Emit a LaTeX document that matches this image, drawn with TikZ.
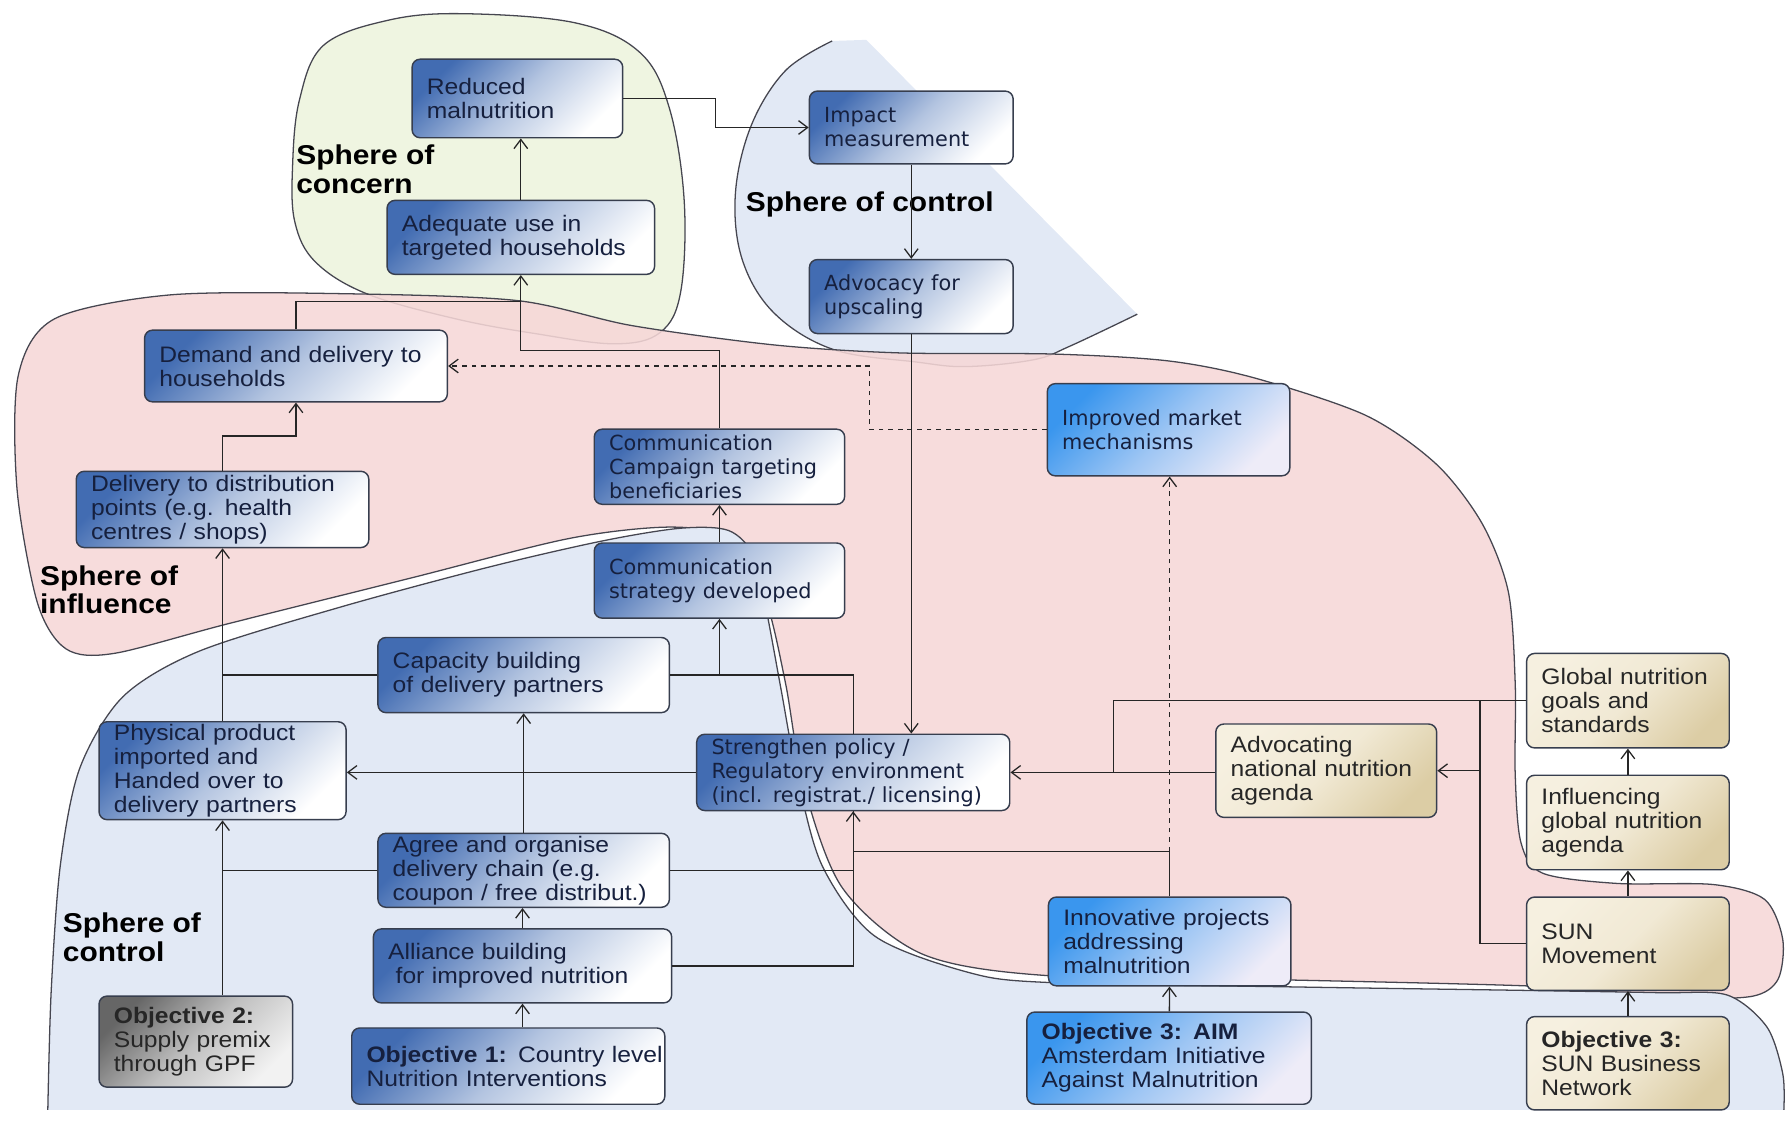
\documentclass[tikz,border=0pt]{standalone}
\usepackage{fontspec}
\setmainfont{Liberation Sans}[FakeStretch=1.1]
\newfontfamily\wideface{DejaVu Sans}
\usetikzlibrary{arrows.meta}

\definecolor{influencepink}{RGB}{246,215,215}
\definecolor{controlblue}{RGB}{226,233,245}
\definecolor{concerngreen}{RGB}{239,245,225}
\definecolor{sphereline}{RGB}{70,70,80}
\definecolor{boxblue}{RGB}{66,108,178}
\definecolor{brightblue}{RGB}{58,150,238}
\definecolor{paleblue}{RGB}{238,236,248}
\definecolor{sandlight}{RGB}{246,240,224}
\definecolor{sanddark}{RGB}{220,205,165}
\definecolor{boxedge}{RGB}{55,62,78}
\definecolor{boxink}{RGB}{22,32,62}

\begin{document}
\begin{tikzpicture}[
  x=0.025cm,y=-0.025cm,
  >={Straight Barb[length=2mm,width=3mm]},
  link/.style={draw=black!85,line width=.8pt},
  sphere/.style={draw=sphereline,line width=.8pt},
  wd/.style={minimum width=#1*0.025cm,text width=(#1-26)*0.025cm},
  ht/.style={minimum height=#1*0.025cm},
  stage/.style={draw=boxedge,line width=.9pt,rounded corners=5pt,align=left,
    inner xsep=0.325cm,inner ysep=1pt,text=boxink,
    font=\fontsize{14}{15}\selectfont},
  bluestage/.style={stage,top color=boxblue,bottom color=white,
    middle color=boxblue!40!white,shading angle=45},
  widestage/.style={bluestage,font=\wideface\fontsize{13}{15}\selectfont},
  brightstage/.style={stage,top color=brightblue,bottom color=paleblue,
    middle color=brightblue!45!paleblue,shading angle=45},
  brightwide/.style={brightstage,font=\wideface\fontsize{13}{15}\selectfont},
  sandstage/.style={stage,text=black!85,top color=sandlight,bottom color=sanddark,
    middle color=sandlight!80!sanddark,shading angle=45},
  greystage/.style={stage,text=black!85,top color=black!60,bottom color=black!5,
    middle color=black!25,shading angle=45},
  spherelabel/.style={align=left,inner sep=0pt,anchor=west,
    font=\bfseries\fontsize{17}{18}\selectfont}]

\useasboundingbox (0,0) rectangle (1568,986);

% spheres
\fill[concerngreen] plot[smooth cycle,tension=.6] coordinates {(257,146) (263,88)
  (284,40) (340,18) (405,12) (505,20) (562,46) (588,95) (601,176) (598,256)
  (580,292) (540,302) (470,293) (400,280) (322,258) (277,230) (259,195)};
\draw[sphere] plot[smooth cycle,tension=.6] coordinates {(257,146) (263,88)
  (284,40) (340,18) (405,12) (505,20) (562,46) (588,95) (601,176) (598,256)
  (580,292) (540,302) (470,293) (400,280) (322,258) (277,230) (259,195)};

\fill[controlblue] plot[smooth,tension=.6] coordinates {(731,36) (690,62) (660,110)
  (646,170) (652,228) (680,275) (732,307) (805,318) (849,322) (908,316) (940,304)
  (999,276)} -- (761,35) -- cycle;
\draw[sphere] plot[smooth,tension=.6] coordinates {(731,36) (690,62) (660,110)
  (646,170) (652,228) (680,275) (732,307) (805,318) (849,322) (908,316) (940,304)
  (999,276)};

\fill[influencepink,fill opacity=.88] plot[smooth cycle,tension=.5] coordinates {
  (16,330) (48,280) (150,259) (302,258) (454,264) (555,286) (680,303) (790,310)
  (925,311) (1026,317) (1102,332) (1200,365) (1262,408) (1302,460) (1325,520)
  (1331,600) (1331,680) (1336,740) (1355,767) (1420,776) (1505,777) (1550,790)
  (1566,825) (1562,860) (1540,875) (1480,877) (1400,871) (1340,866) (1140,861)
  (920,857) (810,838) (740,780) (706,690) (690,600) (672,525) (642,474) (590,463)
  (500,473) (360,508) (200,548) (100,574) (58,570) (33,530) (15,430)};
\draw[sphere] plot[smooth cycle,tension=.5] coordinates {
  (16,330) (48,280) (150,259) (302,258) (454,264) (555,286) (680,303) (790,310)
  (925,311) (1026,317) (1102,332) (1200,365) (1262,408) (1302,460) (1325,520)
  (1331,600) (1331,680) (1336,740) (1355,767) (1420,776) (1505,777) (1550,790)
  (1566,825) (1562,860) (1540,875) (1480,877) (1400,871) (1340,866) (1140,861)
  (920,857) (810,838) (740,780) (706,690) (690,600) (672,525) (642,474) (590,463)
  (500,473) (360,508) (200,548) (100,574) (58,570) (33,530) (15,430)};

\fill[controlblue] plot[smooth,tension=.5] coordinates {(42,975) (45,870) (53,760)
  (70,675) (108,612) (175,572) (300,533) (430,498) (530,475) (598,464) (640,466)
  (662,488) (673,535) (686,605) (700,680) (722,760) (768,822) (850,854) (920,863)
  (1140,867) (1340,870) (1457,872) (1517,874) (1552,902) (1566,943) (1567,975)}
  -- cycle;
\draw[sphere] plot[smooth,tension=.5] coordinates {(42,975) (45,870) (53,760)
  (70,675) (108,612) (175,572) (300,533) (430,498) (530,475) (598,464) (640,466)
  (662,488) (673,535) (686,605) (700,680) (722,760) (768,822) (850,854) (920,863)
  (1140,867) (1340,870) (1457,872) (1517,874) (1552,902) (1566,943) (1567,975)};

\node[spherelabel] (concernlbl) at (260,149) {Sphere of\\concern};
\node[spherelabel] (uppercontrollbl) at (655,180) {Sphere of control};
\node[spherelabel] (influencelbl) at (35,518) {Sphere of\\influence};
\node[spherelabel] (controllbl) at (55,823) {Sphere of\\control};

% stages
\node[bluestage,wd=185,ht=69] (reduced) at (454.5,86.5) {Reduced\\malnutrition};
\node[bluestage,wd=235,ht=65] (adequate) at (457.5,208.5)
  {Adequate use in\\targeted households};
\node[widestage,wd=179,ht=64] (impact) at (800.5,112) {Impact\\measurement};
\node[widestage,wd=179,ht=65] (advocacy) at (800.5,260.5) {Advocacy for\\upscaling};
\node[bluestage,wd=266,ht=63] (demand) at (260,321.5)
  {Demand and delivery to\\households};
\node[brightwide,wd=213,ht=81] (market) at (1026.5,377.5)
  {Improved market\\mechanisms};
\node[widestage,wd=220,ht=66] (campaign) at (632,410)
  {\mbox{Communication}\\\mbox{Campaign targeting}\\beneficiaries};
\node[bluestage,wd=257,ht=67] (delivery) at (195.5,447.5)
  {\mbox{Delivery to distribution}\\points (e.g. health\\centres / shops)};
\node[widestage,wd=220,ht=66] (strategy) at (632,510)
  {Communication\\\mbox{strategy developed}};
\node[bluestage,wd=256,ht=66] (capacity) at (460,593)
  {Capacity building\\of delivery partners};
\node[bluestage,wd=217,ht=86] (physical) at (195.5,677)
  {Physical product\\imported and\\Handed over to\\delivery partners};
\node[widestage,wd=275,ht=67] (policy) at (749.5,678.5)
  {Strengthen policy /\\\mbox{Regulatory environment}\\\mbox{(incl. registrat./ licensing)}};
\node[sandstage,wd=178,ht=83] (goals) at (1430,615.5)
  {Global nutrition\\goals and\\standards};
\node[sandstage,wd=194,ht=82] (national) at (1165,677)
  {Advocating\\\mbox{national nutrition}\\agenda};
\node[sandstage,wd=178,ht=83] (influencing) at (1430,722.5)
  {Influencing\\\mbox{global nutrition}\\agenda};
\node[bluestage,wd=256,ht=65] (agree) at (460,764.5)
  {Agree and organise\\delivery chain (e.g.\\\mbox{coupon / free distribut.)}};
\node[bluestage,wd=262,ht=65] (alliance) at (459,848.5)
  {Alliance building\\\mbox{\ for improved nutrition}};
\node[brightstage,wd=213,ht=78] (innovative) at (1027.5,827)
  {\mbox{Innovative projects}\\addressing\\malnutrition};
\node[sandstage,wd=178,ht=82] (sun) at (1430,829) {SUN\\Movement};
\node[greystage,wd=170,ht=80] (obj2) at (172,915)
  {\textbf{Objective 2:}\\\mbox{Supply premix}\\through GPF};
\node[bluestage,wd=275,ht=67] (obj1) at (446.5,936.5)
  {\mbox{\textbf{Objective 1:} Country level}\\Nutrition Interventions};
\node[brightstage,wd=250,ht=81] (aim) at (1027,929.5)
  {\textbf{Objective 3: AIM}\\\mbox{Amsterdam Initiative}\\\mbox{Against Malnutrition}};
\node[sandstage,wd=178,ht=82] (sunbiz) at (1430,934)
  {\textbf{Objective 3:}\\SUN Business\\Network};

% links
\draw[link,->] (reduced.east) -- ++(81,0) |- (impact.west);
\draw[link,->] (adequate.north) -- (adequate.north |- reduced.south);
\draw[link,->] (impact) -- (advocacy);
\draw[link,->] (advocacy.south) -- (advocacy.south |- policy.north);
\draw[link] (demand.north) |- (adequate.south |- 0,265);
\draw[link,->] (campaign.north) |- (adequate.south |- 0,308) -- (adequate.south);
\draw[link,->,dashed] (market.west) -| (764,321.5) -- (demand.east);
\draw[link,->] (delivery.north) |- (demand.south |- 0,383) -- (demand.south);
\draw[link,->] (strategy) -- (campaign);
\draw[link,->] (physical) -- (delivery);
\draw[link] (capacity.west) -- (capacity.west -| physical.north);
\draw[link,->] (capacity.east) -| (strategy.south);
\draw[link] (capacity.east) -| (policy.north);
\draw[link,->] (policy.west) -- (policy.west -| physical.east);
\draw[link,->] (agree) -- (capacity);
\draw[link] (agree.west) -- (agree.west -| physical.south);
\draw[link,->] (agree.east) -| (policy.south);
\draw[link,->] (alliance.north) -- (alliance.north |- agree.south);
\draw[link] (alliance.east) -| (policy.south);
\draw[link,->] (obj1.north -| alliance.south) -- (alliance.south);
\draw[link,->] (obj2.north -| physical.south) -- (physical.south);
\draw[link] (innovative.north) |- (policy.south |- 0,748);
\draw[link,->,dashed] (innovative.north |- 0,748) -- (innovative.north |- market.south);
\draw[link,->] (aim) -- (innovative);
\draw[link,->] (policy.east -| national.west) -- (policy.east);
\draw[link] (goals.west) -| (policy.east -| 978,0);
\draw[link] (sun.west) -| (goals.west -| 1300,0);
\draw[link,->] (national.east -| 1300,0) -- (national.east);
\draw[link,->] (influencing) -- (goals);
\draw[link,->] (sun) -- (influencing);
\draw[link,->] (sunbiz) -- (sun);
\end{tikzpicture}
\end{document}
